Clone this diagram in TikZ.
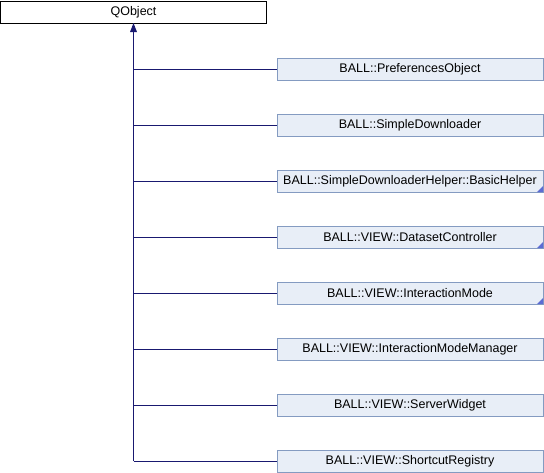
\documentclass[tikz,border=0pt]{standalone}
\usepackage{fontspec}
\setmainfont{Liberation Sans}
\definecolor{boxfill}{RGB}{232,238,247}
\definecolor{boxline}{RGB}{132,155,193}
\definecolor{edge}{RGB}{25,25,112}
\begin{document}
\begin{tikzpicture}[x=1pt,y=-1pt,
  top/.style={draw=black,fill=white,line width=1pt,minimum width=266pt,minimum height=22pt,inner sep=0pt,font=\fontsize{12.5}{14}\selectfont},
  cls/.style={draw=boxline,fill=boxfill,line width=1pt,minimum width=266pt,minimum height=22pt,inner sep=0pt,font=\fontsize{12.5}{14}\selectfont},
  conn/.style={draw=edge,line width=1pt},
  tri/.style={fill=boxline!70!blue,draw=none}]
\useasboundingbox (0,0) rectangle (544,472);
\node[top] (q) at (133.5,12) {QObject};
\coordinate (trunk) at (133.5,460.5);
\foreach \i/\t/\n in {0/BALL::PreferencesObject/c0,1/BALL::SimpleDownloader/c1,2/BALL::SimpleDownloaderHelper::BasicHelper/c2,3/BALL::VIEW::DatasetController/c3,4/BALL::VIEW::InteractionMode/c4,5/BALL::VIEW::InteractionModeManager/c5,6/BALL::VIEW::ServerWidget/c6,7/BALL::VIEW::ShortcutRegistry/c7}{
  \node[cls] (\n) at (410,{69+56*\i}) {\t};
  \coordinate (j\n) at (133.5,{69+56*\i});
  \draw[conn] (j\n) -- (\n.west);
}
\foreach \n in {c2,c3,c4}{
  \fill[tri] ([xshift=-0.5pt,yshift=0.5pt]\n.south east) -- ++(-6,0) -- ++(6,-6) -- cycle;
}
\draw[conn] (jc7) -- (q.south);
\fill[edge] ([yshift=0.5pt]q.south) -- ++(-3.5,9) -- ++(7,0) -- cycle;
\end{tikzpicture}
\end{document}
